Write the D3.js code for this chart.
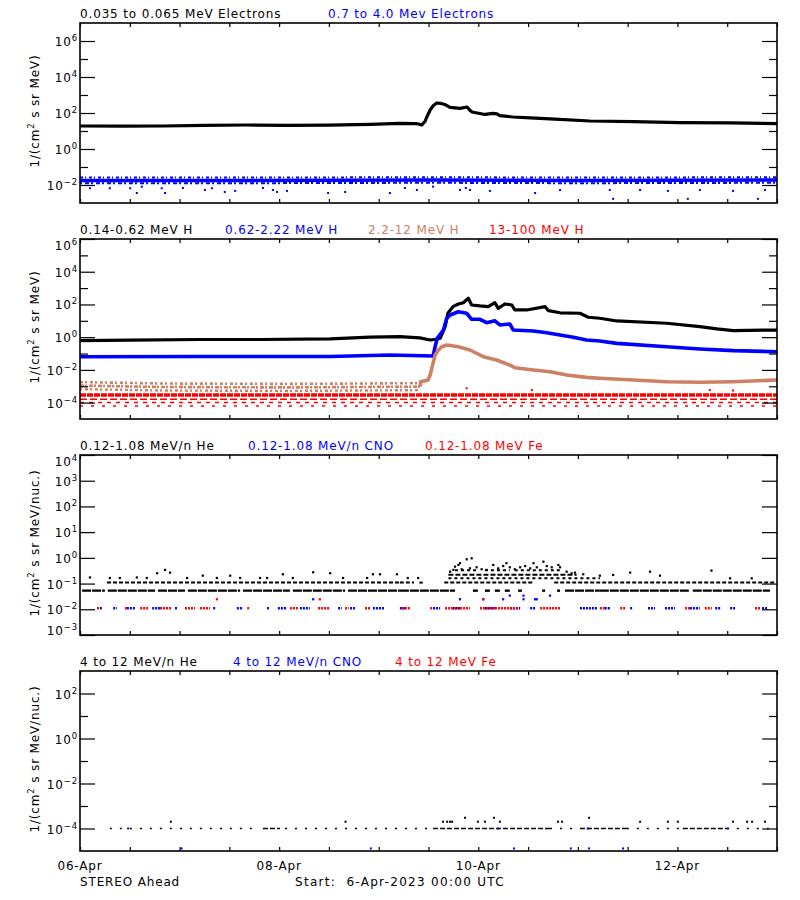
<!DOCTYPE html>
<html><head><meta charset="utf-8">
<script src="https://cdn.jsdelivr.net/npm/d3@7"></script>
<style>
body{margin:0;background:#fff}
svg{font-family:"DejaVu Sans",sans-serif;}
text{letter-spacing:0.85px}
text.wide{letter-spacing:1.3px}
</style></head><body><svg id="c" width="800" height="900"></svg>
<script>
// ================= DATA =================
// time axis: hours since 6-Apr-2023 00:00 UTC
const timeDomain = [0, 168];
const hourTicks = [0,12,24,36,48,60,72,84,96,108,120,132,144,156,168];
const dayTicks = [0,48,96,144];
const dayLabels = ["06-Apr","08-Apr","10-Apr","12-Apr"];
const footerLeft = "STEREO Ahead";
const footerRight = "Start:\u00a0\u00a06-Apr-2023 00:00 UTC";

// panel 1 : electrons
const p1Titles = ["0.035 to 0.065 MeV Electrons","0.7 to 4.0 Mev Electrons"];
const p1Domain = [1e-3, 1e7];
const p1Major = [1e6,1e4,1e2,1,1e-2];
const p1MajorLabels = ["6","4","2","0","\u22122"];
const p1Minor = [1e5,1e3,1e1,1e-1];
const eLow = [[0,19],[10,18.5],[20,19],[30,20.5],[40,21.5],[50,20.5],[60,21],[70,23.5],[77,26.8],[81,26],[82.4,22],
 [83.2,35],[83.6,60],[84.4,147],[85.1,250],[86.0,361],[87.0,340],[88.0,296],[89.2,203],[91.6,182],[93.3,215],
 [94.0,140],[94.5,114],[97.6,83],[99.5,95],[100.5,90],[101.2,71],[104.4,60],[108.5,53],[114.5,46],[122.9,36],
 [133.3,33],[144.6,29],[156.7,28],[168,25.6]];
const eHigh = [[0,0.018],[40,0.018],[84,0.019],[120,0.018],[168,0.019]];
const eHighOutliers = [[2.4,0.0066],[7.2,0.0066],[12.1,0.0066],[13.7,0.0036],[14.9,0.0081],[19.7,0.0066],[20.5,0.0036],
 [24.8,0.0068],[30.1,0.0053],[31.8,0.0066],[34.9,0.0041],[37.4,0.0047],[44.1,0.0068],[46.5,0.0053],[47.5,0.0041],
 [49.9,0.0047],[59.8,0.0036],[63.9,0.0041],[74.7,0.0036],[78.3,0.0068],[81.2,0.0053],[85.1,0.0081],[91.6,0.0053],
 [93.0,0.0068],[94.0,0.0053],[98.8,0.0047],[109.7,0.0036],[115.7,0.0053],[127.7,0.0053],[128.5,0.0017],[135.0,0.0053],
 [141.7,0.0047],[146.5,0.0017],[149.4,0.0053],[157.4,0.0047],[163.4,0.0017],[165.1,0.0053]];

// panel 2 : protons
const p2Titles = ["0.14-0.62 MeV H","0.62-2.22 MeV H","2.2-12 MeV H","13-100 MeV H"];
const p2Domain = [1e-5, 1e6];
const p2Major = [1e6,1e4,1e2,1,1e-2,1e-4];
const p2MajorLabels = ["6","4","2","0","\u22122","\u22124"];
const p2Minor = [1e5,1e3,1e1,1e-1,1e-3];
const hLow = [[0,0.62],[12,0.67],[28.9,0.72],[43.4,0.72],[60.3,0.78],[69.9,1.0],[77.1,1.07],[81.9,0.9],[84.4,0.67],
 [86.0,0.75],[86.8,0.86],[88.0,4.4],[88.7,30],[89.9,73],[91.2,107],[92.4,128],[93.6,238],[94.4,93],[96.4,81],[98.4,73],
 [100,128],[100.8,58],[102.4,107],[104.1,93],[104.8,46],[107.7,46],[112.1,73],[112.9,42],[115.7,31],[120.5,29],
 [122.5,16.5],[125.3,14.3],[129.4,9.8],[141.4,7.1],[149.4,4.4],[153.5,3.2],[157.5,2.5],[167.5,2.75],[168,2.7]];
const hMid = [[0,0.064],[28.9,0.066],[60.3,0.066],[74.7,0.082],[85.1,0.071],[85.6,0.26],[86.1,0.86],[87.6,2.75],
 [88.4,14.3],[89.2,22.7],[91.2,36],[93.2,29],[94.4,12.4],[96.4,12.4],[98.0,7.7],[100,10],[101.2,5.6],[103.6,6.4],
 [104.4,2.75],[109.3,2.4],[112.5,1.88],[115.7,1.36],[118.9,0.99],[122.1,0.67],[125.3,0.58],[129.4,0.42],[141.4,0.26],
 [149.4,0.19],[157.5,0.15],[168,0.13]];
const hHighQuiet = [[0,0.0011],[20,0.0009],[50,0.00085],[82,0.00095]];
const hHigh = [[82,0.00095],[82.1,0.0019],[83.9,0.0024],[84.4,0.0049],[84.8,0.0126],[85.2,0.032],[85.6,0.082],
 [86.4,0.165],[87.2,0.26],[88.4,0.33],[91.2,0.26],[94,0.165],[97.2,0.064],[100.4,0.040],[103.6,0.020],[104.8,0.0137],
 [109.3,0.0099],[113.3,0.0078],[117.3,0.0049],[122.1,0.0035],[125.3,0.0031],[133.4,0.0024],[141.4,0.0019],
 [149.4,0.00175],[157.5,0.0019],[168,0.0024]];
const hTopLevels = [0.000295, 0.000159, 0.000102, 0.0000626];
const hTopScatter = [[93.2,0.00076],[108.9,0.00059],[151.8,0.00059],[157.4,0.00055]];

// panel 3 : low energy ions
const p3Titles = ["0.12-1.08 MeV/n He","0.12-1.08 MeV/n CNO","0.12-1.08 MeV Fe"];
const p3Domain = [1e-3, 1e4];
const p3Major = [1e4,1e3,1e2,1e1,1,1e-1,1e-2,1e-3];
const p3MajorLabels = ["4","3","2","1","0","\u22121","\u22122","\u22123"];
const p3Minor = [];
const heBase = [[0.5,6.0],[6.7,18.1],[18.8,25.3],[26.0,38.6],[39.3,50.6],[51.3,63.9],[64.6,77.1],[77.1,90.4],
 [94.7,95.9],[97.6,98.8],[100.0,101.2],[102.4,103.6],[105.6,106.5],[111.4,112.1],[115.0,115.7],[116.9,125.3],
 [125.3,147.0],[147.7,166.3]];
const heBaseLevel = 0.053;
const heSecond = [[6.5,77.1],[77.1,80.5],[81.8,82.6],[87.8,109.5],[114.3,167.5]];
const heSecondLevel = 0.109;
const heEventLow = [[88.8,125.3]];
const heEventLowLevel = 0.16;
const heEventMid = [[88.8,119.7]];
const heEventMidLevel = 0.22;
const heEventHigh = [[90.4,95.6],[97.6,103.6],[104.8,115.7]];
const heEventHighLevel = 0.33;
const heScatter = [[2.4,0.173],[7.2,0.165],[9.6,0.165],[13.7,0.173],[16.1,0.165],[18.6,0.252],[20.5,0.34],[21.7,0.266],
 [25.8,0.165],[29.6,0.203],[33.0,0.165],[36.2,0.203],[38.6,0.165],[43.4,0.165],[45.1,0.165],[48.9,0.23],[51.3,0.165],
 [56.2,0.275],[60.3,0.252],[63.4,0.165],[69.2,0.165],[70.6,0.23],[72.3,0.23],[76.4,0.23],[79,0.165],[81.5,0.165],
 [90.4,0.455],[91.6,0.62],[91.2,0.53],[93.2,0.88],[94.4,0.96],[89.2,0.29],[90.0,0.34],[92.0,0.36],[94.0,0.39],
 [95.6,0.43],[96.8,0.36],[98.0,0.34],[99.6,0.53],[100.8,0.39],[102.0,0.48],[102.8,0.62],[103.6,0.43],[104.8,0.36],
 [106.1,0.43],[107.3,0.48],[108.5,0.39],[109.3,0.62],[110.1,0.43],[111.7,0.71],[112.5,0.48],[113.7,0.43],[115.3,0.53],
 [115.7,0.43],[117.3,0.29],[118.5,0.25],[119.3,0.266],[121.3,0.23],[125.3,0.203],[128.5,0.216],[132.6,0.266],
 [137.4,0.29],[139.8,0.203],[152.2,0.32],[156.7,0.16],[161.9,0.16]];
const ionLowLevel = 0.011;
const cnoSegments = [[4.8,5.5],[8.0,8.9],[11.3,13.3],[17.4,19.3],[22.9,23.6],[32.1,32.8],[37.8,39.3],[45.1,45.8],
 [47.7,49.9],[53.0,55.4],[62.2,63.1],[65.1,66.5],[70.6,73.5],[77.1,78.3],[85.1,86.8],[89.7,91.6],[97.6,100.0],
 [103.6,106.1],[108.5,109.7],[120.5,124.6],[126.5,127.7],[132.6,133.3],[136.9,138.6],[141.0,143.4],[147.0,149.4],
 [153.1,154.3],[156.7,157.9],[164.4,165.8]];
const feSegments = [[4.1,4.8],[10.8,11.6],[14.5,16.4],[19.3,22.2],[25.3,27.7],[28.9,31.3],[40.3,41.0],[50.6,52.5],
 [57.4,60.3],[63.9,64.8],[68.7,69.9],[77.6,79.5],[84.4,85.1],[88.0,94.0],[96.4,105.6],[110.9,115.7],[125.3,126.5],
 [130.2,131.4],[145.8,147.0],[150.6,152.3],[162.7,163.9]];
const cnoPoints = [[91.6,0.0245],[97.2,0.0245],[102.0,0.0245],[106.9,0.0245],[109.7,0.0245],[110.1,0.0245],[56.2,0.0245],
 [103.6,0.034],[106.9,0.034],[113.3,0.034]];
const fePoints = [[33.0,0.0245],[97.2,0.0245],[57.8,0.0245]];

// panel 4 : high energy ions
const p4Titles = ["4 to 12 MeV/n He","4 to 12 MeV/n CNO","4 to 12 MeV Fe"];
const p4Domain = [1e-5, 1e3];
const p4Major = [1e2,1,1e-2,1e-4];
const p4MajorLabels = ["2","0","\u22122","\u22124"];
const p4Minor = [1e1,1e-1,1e-3];
const heHighLevel = 1e-4;
const heHighSparse = [[7.2,42.9],[49.4,84.4],[113.3,120.5],[131.8,145.3],[155.9,167.5]];
const heHighDense = [[44.1,48.2],[85.1,113.3],[120.5,131.8],[145.3,155.9]];
const heHighPoints = [[21.9,2e-4],[64.0,2e-4],[87.5,2e-4],[88.5,2e-4],[89.2,2e-4],[89.7,2e-4],[92.8,3e-4],[95.9,2e-4],
 [97.6,2e-4],[99.8,3e-4],[101.2,2e-4],[115.2,2e-4],[116.2,2e-4],[122.7,3e-4],[135.0,2e-4],[141.7,2e-4],[144.1,2e-4],
 [157.4,2e-4],[160.8,2e-4],[162.0,2e-4],[165.1,2e-4]];
const cnoHighPoints = [[11.6,1e-4],[100.8,1e-4],[122.4,1e-4],[156.2,1e-4],[24.5,1.3e-5],[70.1,1.3e-5],[104.6,1.3e-5],
 [118.3,1.3e-5],[122.7,1.3e-5],[130.9,1.3e-5]];

// ================= LAYOUT / STYLE =================
const X0 = 80, X1 = 777, PH = 180;
const panelTop = [23, 239, 455, 671];
const C = {black:"#000000", blue:"#0000ff", brown:"#cc8066", red:"#ff0000"};
const svg = d3.select("#c");
const x = d3.scaleLinear().domain(timeDomain).range([X0, X1]);

function setupPanel(i, domain, major, majorLabels, minor, titles, titleXs, titleColors, unitSuffix){
  const top = panelTop[i], bot = top + PH;
  const y = d3.scaleLog().domain(domain).range([bot, top]);
  const g = svg.append("g");
  const cid = "clip" + i;
  svg.append("clipPath").attr("id", cid).append("rect")
     .attr("x", X0).attr("y", top).attr("width", X1 - X0).attr("height", PH);
  const plot = g.append("g").attr("clip-path", `url(#${cid})`);
  const ax = g.append("g");
  ax.append("g").attr("transform",`translate(0,${bot})`)
    .call(d3.axisBottom(x).tickValues(hourTicks).tickSize(-4).tickSizeOuter(0).tickFormat(""));
  ax.append("g").attr("transform",`translate(0,${top})`)
    .call(d3.axisTop(x).tickValues(hourTicks).tickSize(-4).tickSizeOuter(0).tickFormat(""));
  ax.append("g").attr("transform",`translate(${X0},0)`)
    .call(d3.axisLeft(y).tickValues(major).tickSize(-15).tickSizeOuter(0).tickFormat(""));
  ax.append("g").attr("transform",`translate(${X0},0)`)
    .call(d3.axisLeft(y).tickValues(minor).tickSize(-8).tickSizeOuter(0).tickFormat(""));
  ax.append("g").attr("transform",`translate(${X1},0)`)
    .call(d3.axisRight(y).tickValues(major).tickSize(-15).tickSizeOuter(0).tickFormat(""));
  ax.append("g").attr("transform",`translate(${X1},0)`)
    .call(d3.axisRight(y).tickValues(minor).tickSize(-8).tickSizeOuter(0).tickFormat(""));
  ax.selectAll(".domain").remove();
  ax.selectAll(".tick line").attr("stroke","#000").attr("stroke-width",1.2);
  g.append("rect").attr("x",X0).attr("y",top).attr("width",X1-X0).attr("height",PH)
    .attr("fill","none").attr("stroke","#000").attr("stroke-width",1.6);
  major.forEach((v, k) => {
    let by = y(v) + 5;
    if (v === domain[1]) by = y(v) + 11;
    if (v === domain[0]) by = y(v);
    const t = g.append("text").attr("x", 78).attr("y", by).attr("text-anchor","end")
      .attr("font-size", 12).attr("fill","#000");
    t.append("tspan").text("10");
    t.append("tspan").attr("dy", -5).attr("font-size", 8.5).text(majorLabels[k]);
  });
  titles.forEach((s, k) => {
    g.append("text").attr("x", titleXs[k]).attr("y", top - 5.5).attr("font-size", 12)
      .attr("fill", titleColors[k]).text(s);
  });
  const yt = g.append("text").attr("transform", `translate(39,${top + PH/2 - 2}) rotate(-90)`)
    .attr("text-anchor","middle").attr("font-size",12).attr("fill","#000");
  yt.append("tspan").text("1/(cm");
  yt.append("tspan").attr("dy",-5).attr("font-size",8.5).text("2");
  yt.append("tspan").attr("dy",5).text(" s sr MeV" + unitSuffix + ")");
  return {y, plot};
}

function drawLine(p, data, color, w, opts){
  opts = opts || {};
  const ln = d3.line().x(d => x(d[0])).y(d => p.y(d[1]));
  p.plot.append("path").datum(data).attr("d", ln).attr("fill","none").attr("stroke", color)
    .attr("stroke-width", w).attr("stroke-linejoin","round")
    .attr("opacity", opts.op || 1).attr("stroke-dasharray", opts.dash || null)
    .attr("transform", opts.dy ? `translate(0,${opts.dy})` : null);
}
function drawSegments(p, segs, level, color, w, dash){
  p.plot.append("g").selectAll("line").data(segs).join("line")
    .attr("x1", d => x(d[0])).attr("x2", d => x(d[1]))
    .attr("y1", p.y(level)).attr("y2", p.y(level))
    .attr("stroke", color).attr("stroke-width", w).attr("stroke-dasharray", dash || null);
}
function drawPoints(p, pts, color, s){
  p.plot.append("g").selectAll("rect").data(pts).join("rect")
    .attr("x", d => x(d[0]) - s/2).attr("y", d => p.y(d[1]) - s/2)
    .attr("width", s).attr("height", s).attr("fill", color);
}

// ---- panel 1
const P1 = setupPanel(0, p1Domain, p1Major, p1MajorLabels, p1Minor, p1Titles, [80,328], [C.black,C.blue], "");
drawLine(P1, eLow, C.black, 3.2);
drawLine(P1, eHigh, C.blue, 3.5);
drawLine(P1, eHigh, C.blue, 2, {dash:"3 2 1 3", dy:-2.8});
drawLine(P1, eHigh, C.blue, 2, {dash:"2 3 4 2", dy:2.8});
drawPoints(P1, eHighOutliers, C.blue, 2);

// ---- panel 2
const P2 = setupPanel(1, p2Domain, p2Major, p2MajorLabels, p2Minor, p2Titles, [80,225,368,489], [C.black,C.blue,C.brown,C.red], "");
drawLine(P2, hLow, C.black, 3.2);
drawLine(P2, hMid, C.blue, 3.6);
drawLine(P2, hHighQuiet, C.brown, 2.6, {dash:"3 2 2 3", dy:-3.5});
drawLine(P2, hHighQuiet, C.brown, 2.6, {dash:"4 1 2 2"});
drawLine(P2, hHighQuiet, C.brown, 2.4, {dash:"2 3 3 2", dy:3.5});
drawLine(P2, hHigh, C.brown, 3.6);
const redStyles = [[3.5,"6 1"],[1.5,"7 3"],[1.5,"4 5"],[1.5,"3 8"]];
hTopLevels.forEach((lv, k) => drawSegments(P2, [timeDomain], lv, C.red, redStyles[k][0], redStyles[k][1]));
drawPoints(P2, hTopScatter, C.red, 2);

// ---- panel 3
const P3 = setupPanel(2, p3Domain, p3Major, p3MajorLabels, p3Minor, p3Titles, [80,248,425], [C.black,C.blue,C.red], "/nuc.");
drawSegments(P3, heBase, heBaseLevel, C.black, 2.4, "9 1");
drawSegments(P3, heSecond, heSecondLevel, C.black, 2, "4 2");
drawSegments(P3, heEventLow, heEventLowLevel, C.black, 2, "3 3");
drawSegments(P3, heEventMid, heEventMidLevel, C.black, 2, "5 2");
drawSegments(P3, heEventHigh, heEventHighLevel, C.black, 2, "3 3");
drawPoints(P3, heScatter, C.black, 2.2);
drawSegments(P3, cnoSegments, ionLowLevel, C.blue, 2.4, "2 1");
drawSegments(P3, feSegments, ionLowLevel, C.red, 2.4, "2 1");
drawPoints(P3, cnoPoints, C.blue, 2.2);
drawPoints(P3, fePoints, C.red, 2.2);

// ---- panel 4
const P4 = setupPanel(3, p4Domain, p4Major, p4MajorLabels, p4Minor, p4Titles, [80,233,395], [C.black,C.blue,C.red], "/nuc.");
drawSegments(P4, heHighSparse, heHighLevel, C.black, 1.4, "2 8");
drawSegments(P4, heHighDense, heHighLevel, C.black, 1.4, "5 2");
drawPoints(P4, heHighPoints, C.black, 2);
drawPoints(P4, cnoHighPoints, C.blue, 2);

// ---- bottom labels
dayTicks.forEach((t, k) => {
  svg.append("text").attr("x", x(t)).attr("y", 870).attr("text-anchor","middle")
    .attr("font-size",12).attr("fill","#000").text(dayLabels[k]);
});
svg.append("text").attr("x",80).attr("y",886).attr("font-size",12).attr("fill","#000").text(footerLeft);
svg.append("text").attr("class","wide").attr("x",295).attr("y",886).attr("font-size",12).attr("fill","#000")
  .text(footerRight);
</script></body></html>
